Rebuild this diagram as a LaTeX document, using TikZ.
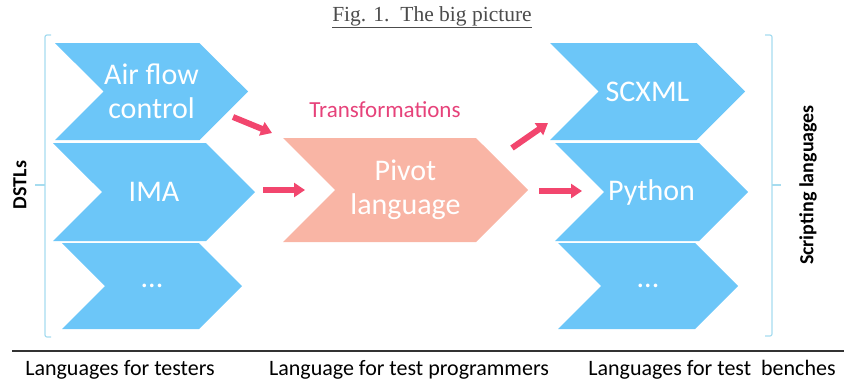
\documentclass[tikz,border=0pt]{standalone}
\usepackage{fontspec}
\setmainfont{Carlito}
\newfontfamily\titlefont{Liberation Serif}
\usetikzlibrary{shapes.symbols, arrows.meta}

\definecolor{chevblue}{HTML}{6CC6F8}
\definecolor{pivotpink}{HTML}{F9B5A5}
\definecolor{arrowred}{HTML}{F2466E}
\definecolor{transpink}{HTML}{E6427A}
\definecolor{bracketblue}{HTML}{A6DCEF}

\tikzset{
  chev/.style={signal, signal from=west, signal to=east, signal pointer angle=90,
    fill=chevblue, text=white, inner sep=0pt, align=center,
    font=\fontsize{30}{34}\selectfont},
  trans/.style={-{Triangle[length=11pt,width=14pt]}, line width=6pt, arrowred},
  brace/.style={bracketblue, line width=1.2pt, rounded corners=2pt},
  side/.style={rotate=90, font=\fontsize{20}{24}\selectfont\bfseries},
  level/.style={font=\fontsize{22}{26}\selectfont}
}

\begin{document}
\begin{tikzpicture}[x=1pt, y=-1pt]
  \useasboundingbox (0,0) rectangle (844,383);

  \node[font=\titlefont\fontsize{21.5}{25}\selectfont, text=black!70] (title) at (432,17) {\underline{Fig. 1.\ \ The big picture}};

  % languages for testers
  \node[chev, minimum width=193pt, minimum height=97pt] (air) at (151.5,91.5) {Air flow\\control};
  \node[chev, minimum width=202pt, minimum height=98pt] (ima) at (154,192) {IMA};
  \node[chev, minimum width=180pt, minimum height=86pt] (dsl) at (152,286) {...};

  % pivot
  \node[chev, fill=pivotpink, minimum width=245pt, minimum height=104pt] (pivot) at (405.5,190) {Pivot\\language};
  \node[text=transpink, font=\fontsize{23}{27}\selectfont] (trlabel) at (385,110) {Transformations};

  % languages for test benches
  \node[chev, minimum width=195pt, minimum height=97pt] (scxml) at (647.5,91.5) {SCXML};
  \node[chev, minimum width=193pt, minimum height=98pt] (python) at (651.5,192) {Python};
  \node[chev, minimum width=180pt, minimum height=86pt] (script) at (648,286) {...};

  % transformations
  \coordinate (a1) at (233,117);  \coordinate (b1) at (272,133);
  \coordinate (a2) at (263,190);  \coordinate (b2) at (305,190);
  \coordinate (a3) at (512,148);  \coordinate (b3) at (548,123);
  \coordinate (a4) at (539,191);  \coordinate (b4) at (582,191);
  \foreach \i in {1,2,3,4}
    \draw[trans] (a\i) -- (b\i);

  % brackets
  \draw[brace] (51,35) -- (45,35) -- (45,337) -- (51,337);
  \draw[bracketblue, line width=1.2pt] (45,185) -- (35,185);
  \draw[brace] (765,35) -- (772,35) -- (772,336) -- (765,336);
  \draw[bracketblue, line width=1.2pt] (772,185) -- (781,185);
  \node[side] (dstl) at (20,185) {DSTLs};
  \node[side] (scr) at (808,185) {Scripting languages};

  % levels
  \draw[black!80, line width=1.5pt] (12,351) -- (844,351);
  \node[level] (testers) at (120,370) {Languages for testers};
  \node[level] (progs) at (409,370) {Language for test programmers};
  \node[level] (benches) at (712,370) {Languages for test\ \ benches};
\end{tikzpicture}
\end{document}
